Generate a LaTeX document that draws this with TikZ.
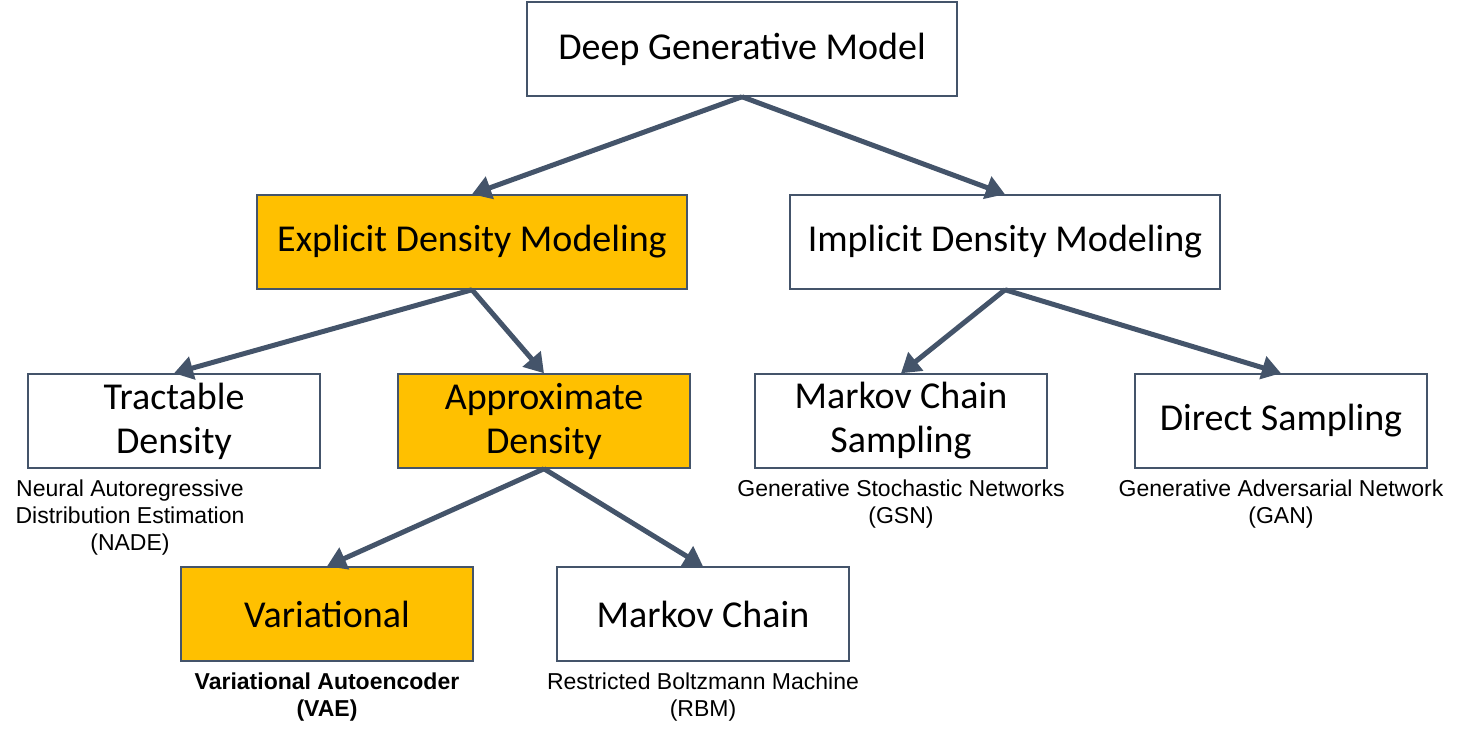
\documentclass[tikz,border=0pt]{standalone}
\usepackage{fontspec}
\setmainfont{Carlito}
\newfontfamily\capfont{Liberation Sans}
\usetikzlibrary{arrows.meta,positioning}
\definecolor{slate}{HTML}{44546A}
\definecolor{gold}{HTML}{FFC000}

\begin{document}
\begin{tikzpicture}[x=1pt, y=-1pt, node distance=11pt,
    box/.style={rectangle, draw=slate, line width=1.5pt, align=center, minimum height=94pt, font=\fontsize{38}{44}\selectfont},
    wide/.style={box, minimum width=430pt},
    narrow/.style={box, minimum width=292pt},
    picked/.style={fill=gold},
    note/.style={align=center, inner sep=0pt, font=\capfont\fontsize{23}{27}\selectfont},
    link/.style={draw=slate, line width=5pt, -{Triangle[length=19pt,width=23pt]}}]
  \useasboundingbox (0,0) rectangle (1458,741);

  \node[wide] (deep) at (742,49) {Deep Generative Model};
  \node[wide, picked] (explicit) at (472,242) {Explicit Density Modeling};
  \node[wide] (implicit) at (1005,242) {Implicit Density Modeling};
  \node[narrow] (tract) at (174,421) {Tractable\\Density};
  \node[narrow, picked] (approx) at (544,421) {Approximate\\Density};
  \node[narrow] (mcs) at (901,421) {Markov Chain\\Sampling};
  \node[narrow] (direct) at (1281,421) {Direct Sampling};
  \node[narrow, picked] (vari) at (327,614) {Variational};
  \node[narrow] (chain) at (703,614) {Markov Chain};

  \node[note, below=of tract, xshift=-44pt] (nade) {Neural Autoregressive\\Distribution Estimation\\(NADE)};
  \node[note, below=of mcs] (gsn) {Generative Stochastic Networks\\(GSN)};
  \node[note, below=of direct] (gan) {Generative Adversarial Network\\(GAN)};
  \node[note, below=of vari, font=\capfont\bfseries\fontsize{23}{27}\selectfont] (vae) {Variational Autoencoder\\(VAE)};
  \node[note, below=of chain] (rbm) {Restricted Boltzmann Machine\\(RBM)};

  \draw[link] (deep.south) -- (explicit.north);
  \draw[link] (deep.south) -- (implicit.north);
  \draw[link] (explicit.south) -- (tract.north);
  \draw[link] (explicit.south) -- (approx.north);
  \draw[link] (implicit.south) -- (mcs.north);
  \draw[link] (implicit.south) -- (direct.north);
  \draw[link] (approx.south) -- (vari.north);
  \draw[link] (approx.south) -- (chain.north);
\end{tikzpicture}
\end{document}
